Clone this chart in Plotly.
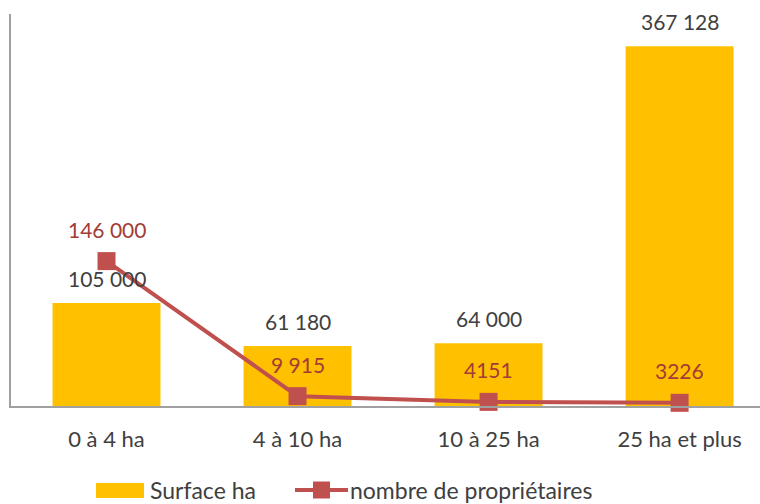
import plotly.graph_objects as go

categories = ["0 à 4 ha", "4 à 10 ha", "10 à 25 ha", "25 ha et plus"]
surface_ha = [105000, 61180, 64000, 367128]
surface_labels = ["105 000", "61 180", "64 000", "367 128"]
proprietaires = [146000, 9915, 4151, 3226]
proprietaires_labels = ["146 000", "9 915", "4151", "3226"]
legend_names = ["Surface ha", "nombre de propriétaires"]

FONT = "Lato"
GRAY = "#404040"
YELLOW = "#FFC000"
RED = "#C0504D"
RED_TXT = "#A33B37"

W, H = 760, 504
ML, MR, MT, MB = 11, 0, 14, 98
PW, PH = W - ML - MR, H - MT - MB


def px(xp):
    return (xp - ML) / PW


def py(yp):
    return (H - MB - yp) / PH


fig = go.Figure()
fig.add_trace(go.Bar(
    x=categories, y=surface_ha, name=legend_names[0],
    marker=dict(color=YELLOW, line=dict(width=0)),
    width=0.565, cliponaxis=False, showlegend=False,
))
fig.add_trace(go.Scatter(
    x=categories, y=proprietaires, name=legend_names[1],
    mode="lines+markers", yaxis="y2",
    line=dict(color=RED, width=4),
    marker=dict(symbol="square", size=18, color=RED),
    cliponaxis=False, showlegend=False,
))

for c, v, t in zip(categories, surface_ha, surface_labels):
    fig.add_annotation(x=c, y=v, xref="x", yref="y", text=t, showarrow=False,
                       yanchor="middle", yshift=25,
                       font=dict(family=FONT, size=21, color=GRAY))
for c, v, t in zip(categories, proprietaires, proprietaires_labels):
    fig.add_annotation(x=c, y=v, xref="x", yref="y2", text=t, showarrow=False,
                       yanchor="middle", yshift=32,
                       font=dict(family=FONT, size=21, color=RED_TXT))

# custom legend (below the plot)
fig.add_shape(type="rect", xref="paper", yref="paper",
              x0=px(96), x1=px(144), y0=py(498), y1=py(483),
              fillcolor=YELLOW, line=dict(width=0))
fig.add_annotation(xref="paper", yref="paper", x=px(149), y=py(490),
                   xanchor="left", yanchor="middle", showarrow=False, borderpad=0,
                   text=legend_names[0], font=dict(family=FONT, size=23, color=GRAY))
fig.add_shape(type="line", xref="paper", yref="paper",
              x0=px(295), x1=px(348), y0=py(490), y1=py(490),
              line=dict(color=RED, width=4))
fig.add_shape(type="rect", xref="paper", yref="paper",
              x0=px(313), x1=px(330), y0=py(498.5), y1=py(481.5),
              fillcolor=RED, line=dict(width=0))
fig.add_annotation(xref="paper", yref="paper", x=px(349), y=py(490),
                   xanchor="left", yanchor="middle", showarrow=False, borderpad=0,
                   text=legend_names[1], font=dict(family=FONT, size=23, color=GRAY))

fig.update_layout(
    width=W, height=H,
    margin=dict(l=ML, r=MR, t=MT, b=MB, autoexpand=False),
    paper_bgcolor="white", plot_bgcolor="white",
    font=dict(family=FONT, size=20, color=GRAY),
    showlegend=False,
    xaxis=dict(range=[-0.5, 3.421], showline=True, linecolor="#A0A0A0", linewidth=2,
               showgrid=False, ticks="", ticklabelstandoff=13,
               tickfont=dict(family=FONT, size=22, color=GRAY), zeroline=False),
    yaxis=dict(range=[0, 400000], showline=True, linecolor="#A0A0A0", linewidth=2,
               showgrid=False, showticklabels=False, ticks="", zeroline=False),
    yaxis2=dict(range=[0, 395000], overlaying="y", side="right", showline=False,
                showgrid=False, showticklabels=False, ticks="", zeroline=False),
)

fig.write_html("out.html")
